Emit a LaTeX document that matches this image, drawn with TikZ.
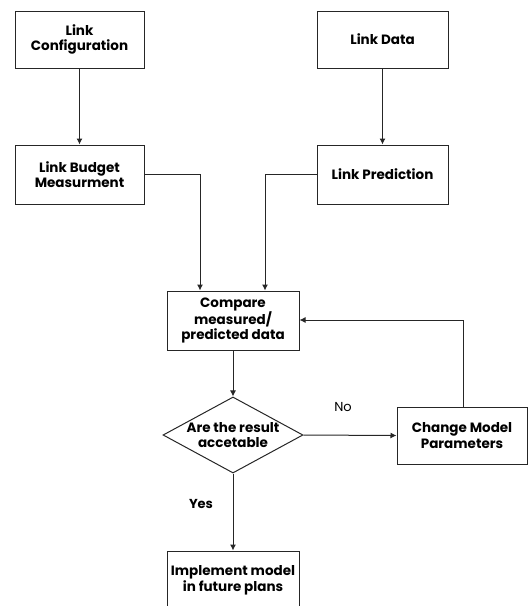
\documentclass[tikz,border=0pt]{standalone}
\usepackage{fontspec}
\setmainfont{Poppins}
\usetikzlibrary{arrows.meta,shapes.geometric}
\begin{document}
\begin{tikzpicture}[x=1pt,y=-1pt,
  box/.style={draw=black!85,line width=1pt,minimum width=#1,inner sep=0pt,align=center,font=\fontsize{13.5}{15.5}\selectfont\bfseries},
  box/.default=130pt,
  dec/.style={draw=black!85,line width=1pt,diamond,aspect=1.84,minimum width=140pt,minimum height=76pt,inner sep=0pt,align=center,font=\fontsize{13.5}{15.5}\selectfont\bfseries},
  conn/.style={draw=black!85,line width=1pt,-{Latex[length=6pt,width=6pt]}},
  lbl/.style={font=\fontsize{13}{15}\selectfont}
]
\useasboundingbox (0,0) rectangle (528,606);
\clip (0,0) rectangle (528,606);
\node[box=129pt,minimum height=57pt] (lc) at (79.5,39.5) {Link\\Configuration};
\node[box=131pt,minimum height=57pt] (ld) at (382.5,39.5) {Link Data};
\node[box=129pt,minimum height=59pt] (lb) at (79.5,174.5) {Link Budget\\Measurment};
\node[box=131pt,minimum height=59pt] (lp) at (382.5,174.5) {Link Prediction};
\node[box=132pt,minimum height=59pt] (cmp) at (233,320.5) {Compare\\measured/\\predicted data};
\node[dec] (dec) at (233,435) {Are the result\\accetable};
\node[box=130pt,minimum height=57pt] (ch) at (462,435.5) {Change Model\\Parameters};
\node[box=132pt,minimum height=59pt] (im) at (233,580.5) {Implement model\\in future plans};
\coordinate (c1) at (200,174.5);
\coordinate (c2) at (265,174.5);
\coordinate (c3) at (463,320);
\draw[conn] (lc) -- (lb);
\draw[conn] (ld) -- (lp);
\draw[conn] (lb.east) -- (c1) -- (c1 |- cmp.north);
\draw[conn] (lp.west) -- (c2) -- (c2 |- cmp.north);
\draw[conn] (cmp) -- (dec);
\draw[conn] (dec.east) -- (ch.west);
\draw[conn] (ch.north -| c3) -- (c3) -- (c3 -| cmp.east);
\draw[conn] (dec.south) -- (im.north);
\node[lbl] (no) at (343,407) {No};
\node[lbl,font=\fontsize{13}{15}\selectfont\bfseries] (yes) at (201,504) {Yes};
\end{tikzpicture}
\end{document}
